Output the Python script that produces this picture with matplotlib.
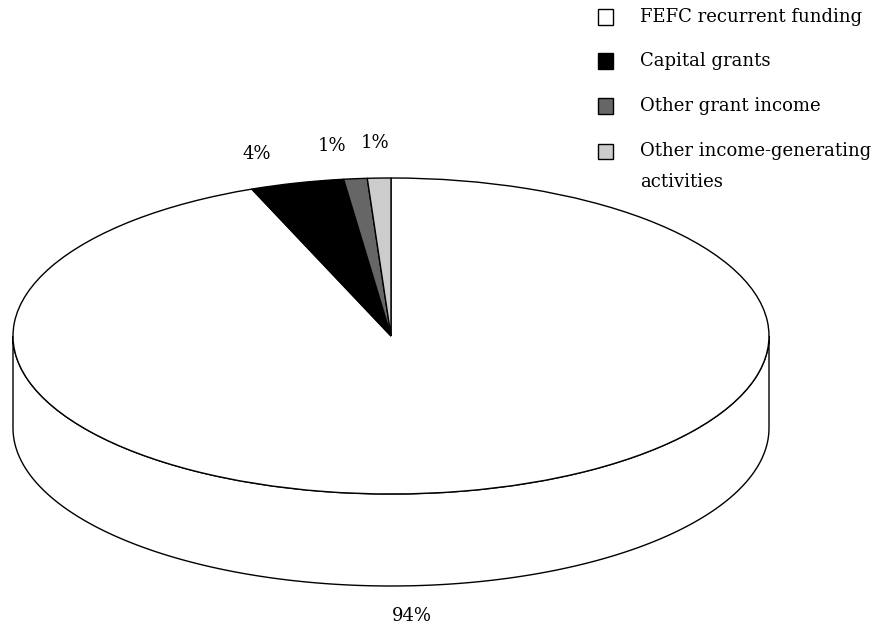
import matplotlib
matplotlib.use("Agg")
import matplotlib.pyplot as plt
from matplotlib.patches import Rectangle, Polygon
import numpy as np

categories = ["FEFC recurrent funding", "Capital grants", "Other grant income",
              "Other income-generating\nactivities"]
shares = [94, 4, 1, 1]
colors = ["#ffffff", "#000000", "#666666", "#cccccc"]

plt.rcParams["font.family"] = ["DejaVu Serif"]
FS = 13

W, H = 881, 632
fig = plt.figure(figsize=(W / 100, H / 100), dpi=100)
ax = fig.add_axes([0, 0, 1, 1])

# ellipse geometry of the tilted pie (pixels)
cx, cy, rx, ry, depth = 391, 336, 378, 158, 92


def fx(px):
    return px / W


def fy(py):
    return 1 - py / H


wedges, _ = ax.pie(shares, colors=colors, startangle=90, counterclock=False,
                   radius=1, center=(0, 0),
                   wedgeprops=dict(edgecolor="black", linewidth=1.0))
ax.set_aspect("auto")
ax.set_xlim(-cx / rx, (W - cx) / rx)
ax.set_ylim((cy - H) / ry, cy / ry)
ax.axis("off")

# visible front side of each slice (angles between 180 and 360 degrees)
d = depth / ry
for w, c in zip(wedges, colors):
    t1, t2 = w.theta1, w.theta2
    for k in range(-2, 3):
        lo = max(t1, 180 + 360 * k)
        hi = min(t2, 360 + 360 * k)
        if lo < hi:
            th = np.radians(np.linspace(lo, hi, 200))
            top = np.column_stack([np.cos(th), np.sin(th)])
            bot = top[::-1] - [0, d]
            side = Polygon(np.vstack([top, bot]), closed=True, facecolor=c,
                           edgecolor="black", linewidth=1.0, zorder=0)
            ax.add_patch(side)

# slice labels
label_pos = [(412, 616), (257, 154), (332, 146), (375, 143)]
for v, (px, py) in zip(shares, label_pos):
    fig.text(fx(px), fy(py), f"{v:.0f}%", ha="center", va="center", fontsize=FS)

# legend
sq = 15
rows_y = [17, 61, 106, 151]
line_gap = 31
for lab, c, ry_ in zip(categories, colors, rows_y):
    fig.patches.append(Rectangle((fx(598), fy(ry_ + sq / 2)), sq / W, sq / H,
                                 facecolor=c, edgecolor="black", linewidth=1.0,
                                 transform=fig.transFigure, figure=fig))
    for i, line in enumerate(lab.split("\n")):
        fig.text(fx(640), fy(ry_ + 5 + i * line_gap), line, ha="left",
                 va="baseline", fontsize=FS)

fig.savefig("out.png", dpi=100, facecolor="white")
